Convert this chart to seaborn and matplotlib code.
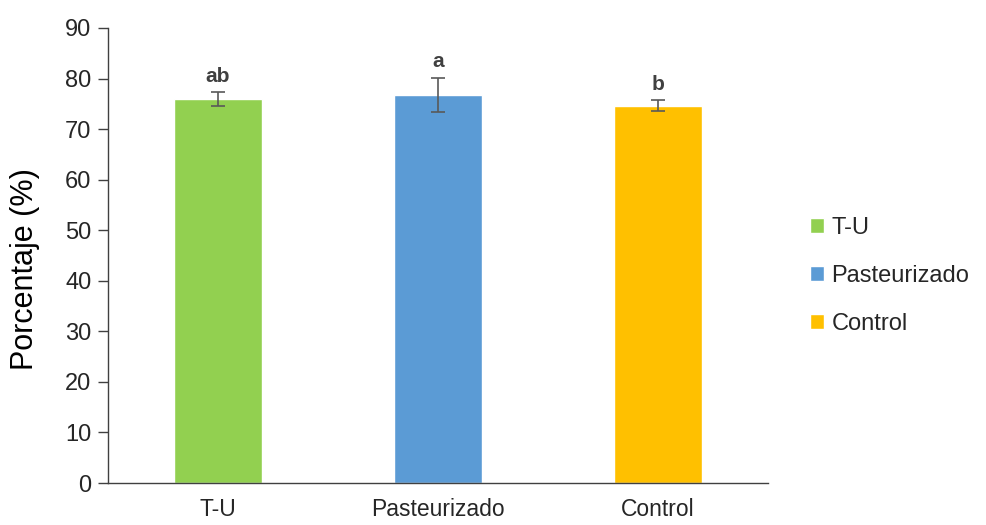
import matplotlib
matplotlib.use("Agg")
import matplotlib.pyplot as plt
import seaborn as sns
import pandas as pd
from matplotlib.patches import Patch

categories = ["T-U", "Pasteurizado", "Control"]
values = [75.9, 76.8, 74.6]
errors = [1.4, 3.4, 1.1]
letters = ["ab", "a", "b"]
colors = ["#92D050", "#5B9BD5", "#FFC000"]

sns.set_style("white")
plt.rcParams['font.family'] = ['Liberation Sans', 'DejaVu Sans']

df = pd.DataFrame({"cat": categories, "val": values})
fig = plt.figure(figsize=(9.86, 5.25), dpi=100)
ax = fig.add_axes([0.1095, 0.08, 0.6695, 0.8667])
sns.barplot(data=df, x="cat", y="val", hue="cat", palette=colors, width=0.4,
            legend=False, ax=ax, errorbar=None, saturation=1)
ax.errorbar(range(len(categories)), values, yerr=errors, fmt="none",
            ecolor="#595959", elinewidth=1.2, capsize=5, capthick=1.2)
for i, (v, e, l) in enumerate(zip(values, errors, letters)):
    ax.text(i, v + e + 1.2, l, ha="center", va="bottom", fontsize=15,
            fontweight="bold", color="#404040")

ax.set_ylim(0, 90)
ax.set_yticks(range(0, 91, 10))
ax.set_xlim(-0.5, 2.5)
ax.set_xlabel("")
ax.set_ylabel("Porcentaje (%)", fontsize=22, color="black")
ax.yaxis.set_label_coords(-0.103, 0.47)
ax.tick_params(axis="y", labelsize=17, length=7, width=1, color="#404040", left=True, pad=5)
ax.tick_params(axis="x", labelsize=16.5, length=0, pad=11)
for s in ["top", "right"]:
    ax.spines[s].set_visible(False)
for s in ["left", "bottom"]:
    ax.spines[s].set_color("#404040")
    ax.spines[s].set_linewidth(1)

handles = [Patch(facecolor=c, label=l) for c, l in zip(colors, categories)]
fig.legend(handles=handles, loc="center left", bbox_to_anchor=(0.8, 0.475),
           frameon=False, fontsize=17, handlelength=0.6, handleheight=0.6,
           handletextpad=0.3, labelspacing=1.1)

fig.savefig("out.png", dpi=100)
